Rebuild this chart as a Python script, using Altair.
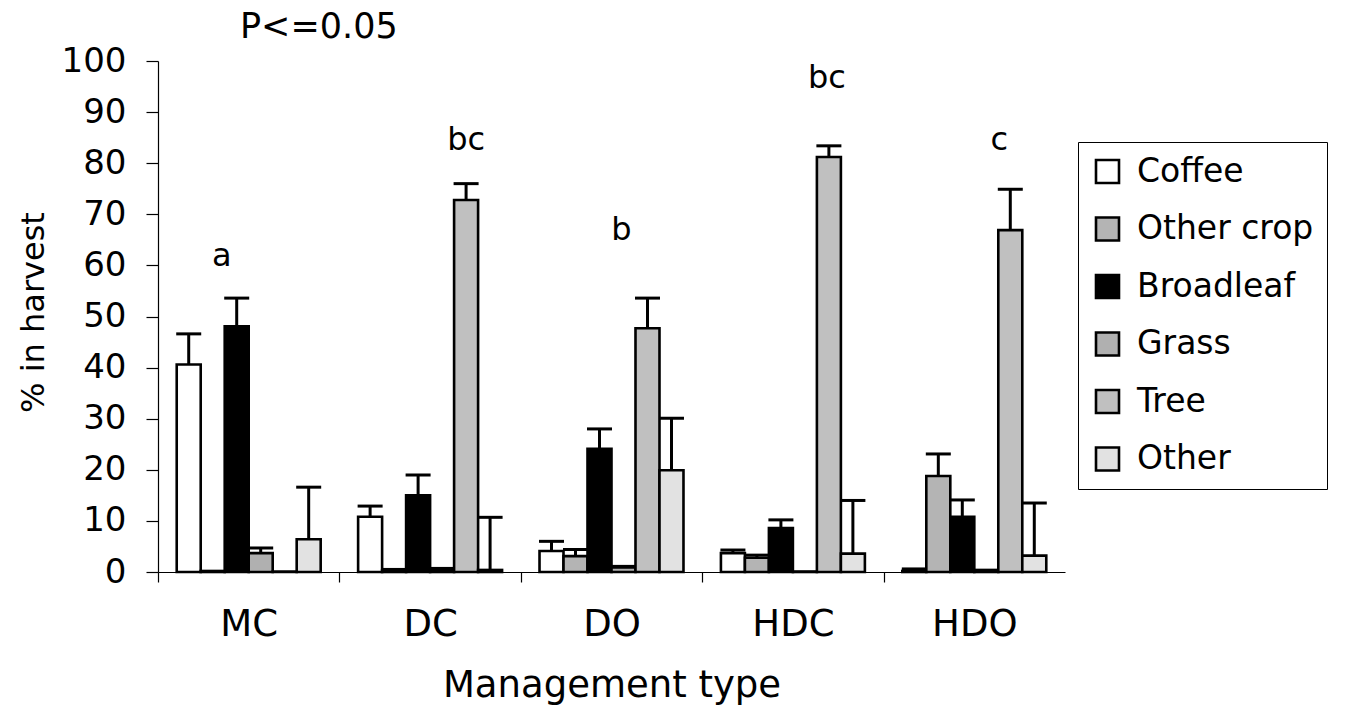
import altair as alt
import pandas as pd

# Share of each plant type in the harvest, by management type (mean and SE)
management = ["MC", "DC", "DO", "HDC", "HDO"]
plant_types = ["Coffee", "Other crop", "Broadleaf", "Grass", "Tree", "Other"]

coffee = [40.6, 10.8, 4.1, 3.7, 0.2]
other_crop = [0.2, 0.3, 3.1, 2.8, 18.8]
broadleaf = [48.1, 15.0, 24.1, 8.6, 10.8]
grass = [3.7, 0.5, 0.9, 0.1, 0.4]
tree = [0.1, 72.8, 47.7, 81.2, 66.9]
other = [6.4, 0.4, 19.9, 3.6, 3.2]

coffee_se = [6.0, 2.1, 1.9, 0.6, 0.4]
other_crop_se = [0.0, 0.2, 1.3, 0.5, 4.3]
broadleaf_se = [5.5, 4.0, 3.9, 1.6, 3.3]
grass_se = [1.0, 0.2, 0.2, 0.0, 0.0]
tree_se = [0.0, 3.2, 5.9, 2.2, 8.0]
other_se = [10.2, 10.3, 10.2, 10.4, 10.3]

fills = ["#ffffff", "#b4b4b4", "#000000", "#b0b0b0", "#c0c0c0", "#e2e2e2"]

# Significance letters per management type
letter_mgmt = ["MC", "DC", "DO", "HDC", "HDO"]
letter_text = ["a", "bc", "b", "bc", "c"]
letter_y = [61.8, 84.5, 66.9, 96.7, 84.5]
letter_shift = [-27, 36, 10, 34, 25]

means = [coffee, other_crop, broadleaf, grass, tree, other]
ses = [coffee_se, other_crop_se, broadleaf_se, grass_se, tree_se, other_se]

rows = []
for ptype, vals, errs in zip(plant_types, means, ses):
    for m, v, e in zip(management, vals, errs):
        rows.append({"mgmt": m, "ptype": ptype, "value": v, "se": e, "top": v + e})
df = pd.DataFrame(rows)
err_df = df[df["se"] > 0]

FONT = "DejaVu Sans"

x_enc = alt.X(
    "mgmt:N",
    sort=management,
    scale=alt.Scale(paddingInner=0, paddingOuter=0),
    axis=alt.Axis(
        title="Management type",
        titleFont=FONT,
        titleFontSize=37,
        titleFontWeight="normal",
        titleColor="black",
        titleBaseline="alphabetic",
        titleY=124,
        labelFont=FONT,
        labelFontSize=37,
        labelColor="black",
        labelAngle=0,
        labelPadding=24,
        tickSize=10,
        tickColor="black",
        tickOffset=-90.7,
        labelOffset=90.7,
        domainColor="black",
        domainWidth=1.2,
        tickWidth=1.2,
    ),
)
xoff = alt.XOffset(
    "ptype:N",
    sort=plant_types,
    scale=alt.Scale(paddingInner=0, paddingOuter=0.78),
)
y_scale = alt.Scale(domain=[0, 100], nice=False)
y_enc = alt.Y(
    "value:Q",
    scale=y_scale,
    axis=alt.Axis(
        title="% in harvest",
        titleFont=FONT,
        titleFontSize=32,
        titleFontWeight="normal",
        titleColor="black",
        titleAngle=-90,
        titleBaseline="middle",
        titleAlign="center",
        titleX=-125,
        titleY=251,
        values=list(range(0, 101, 10)),
        labelFont=FONT,
        labelFontSize=34,
        labelColor="black",
        labelPadding=20,
        tickSize=12,
        tickColor="black",
        tickWidth=1.2,
        domainColor="black",
        domainWidth=1.2,
        grid=False,
    ),
)

bars = alt.Chart(df).mark_bar(stroke="black", strokeWidth=2.6).encode(
    x=x_enc,
    xOffset=xoff,
    y=y_enc,
    color=alt.Color(
        "ptype:N",
        sort=plant_types,
        scale=alt.Scale(domain=plant_types, range=fills),
        legend=alt.Legend(
            title=None,
            orient="none",
            legendX=920,
            legendY=81,
            symbolType="square",
            symbolSize=529,
            symbolStrokeColor="black",
            symbolStrokeWidth=2.6,
            symbolOpacity=1,
            labelFont=FONT,
            labelFontSize=33,
            labelColor="black",
            labelOffset=13,
            rowPadding=22.5,
            padding=13,
            strokeColor="black",
            labelLimit=400,
        ),
    ),
)

stems = alt.Chart(err_df).mark_rule(color="black", strokeWidth=3).encode(
    x=alt.X("mgmt:N", sort=management),
    xOffset=alt.XOffset("ptype:N", sort=plant_types),
    y=alt.Y("value:Q", scale=y_scale),
    y2="top:Q",
)

caps = alt.Chart(err_df).mark_tick(color="black", thickness=3, size=25, opacity=1).encode(
    x=alt.X("mgmt:N", sort=management),
    xOffset=alt.XOffset("ptype:N", sort=plant_types),
    y=alt.Y("top:Q", scale=y_scale),
)

letters_df = pd.DataFrame({"mgmt": letter_mgmt, "txt": letter_text, "y": letter_y, "shift": letter_shift})
letter_layers = []
for i in range(len(letter_mgmt)):
    letter_layers.append(
        alt.Chart(letters_df.iloc[[i]])
        .mark_text(font=FONT, fontSize=32, color="black", baseline="middle", dx=int(letter_shift[i]))
        .encode(
            x=alt.X("mgmt:N", sort=management),
            y=alt.Y("y:Q", scale=y_scale),
            text="txt:N",
        )
    )

chart = (
    alt.layer(bars, stems, caps, *letter_layers)
    .resolve_scale(x="shared")
    .properties(
        width=907,
        height=511,
        autosize=alt.AutoSizeParams(type="none"),
        padding={"left": 158, "top": 61, "right": 281, "bottom": 135},
        title=alt.TitleParams(
            "P<=0.05",
            anchor="start",
            dx=223,
            dy=36,
            offset=7,
            font=FONT,
            fontSize=35,
            fontWeight="normal",
            color="black",
            baseline="alphabetic",
        ),
    )
    .configure(background="white", view=alt.ViewConfig(stroke=None))
)

chart.save("out.html", embed_options={"renderer": "svg", "actions": False})
